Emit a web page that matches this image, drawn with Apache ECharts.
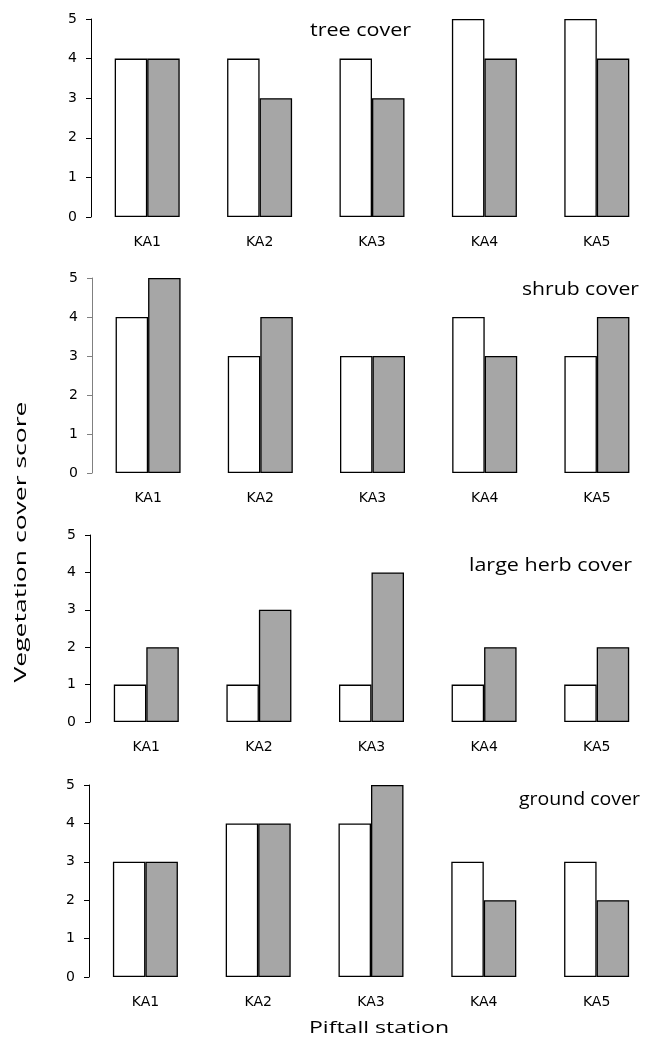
<!DOCTYPE html>
<html>
<head>
<meta charset="utf-8">
<script src="https://cdn.jsdelivr.net/npm/echarts@6/dist/echarts.min.js"></script>
<style>
  html, body { margin: 0; padding: 0; background: #fff; }
  #chart { width: 653px; height: 1041px; }
</style>
</head>
<body>
<div id="chart"></div>
<script>
// stations and cover scores
const stations = ['KA1', 'KA2', 'KA3', 'KA4', 'KA5']
const yTicks = [0, 1, 2, 3, 4, 5]

const treeWhite = [4, 4, 4, 5, 5]
const treeGray = [4, 3, 3, 4, 4]
const shrubWhite = [4, 3, 3, 4, 3]
const shrubGray = [5, 4, 3, 3, 4]
const herbWhite = [1, 1, 1, 1, 1]
const herbGray = [2, 3, 4, 2, 2]
const groundWhite = [3, 4, 4, 3, 3]
const groundGray = [3, 4, 5, 2, 2]

const panelTitles = ['tree cover', 'shrub cover', 'large herb cover', 'ground cover']
const xName = 'Piftall station'
const yName = 'Vegetation cover score'

const LABEL_FONT = 'DejaVu Sans'
const TITLE_FONT = 'Open Sans'

const panels = [
  { white: treeWhite, gray: treeGray, left: 91, top: 19, height: 198, axisColor: '#000' },
  { white: shrubWhite, gray: shrubGray, left: 92, top: 278, height: 195, axisColor: '#808080' },
  { white: herbWhite, gray: herbGray, left: 90, top: 535, height: 187, axisColor: '#000' },
  { white: groundWhite, gray: groundGray, left: 89, top: 785, height: 192, axisColor: '#000' },
]

// text boxes: left edge / centre line and the width the text should span
const titleBoxes = [
  { x: 310, y: 31, w: 101 },
  { x: 522, y: 290, w: 117 },
  { x: 469, y: 566, w: 163 },
  { x: 519, y: 800, w: 121 },
]

// the source fonts are wider than what is installed, so stretch texts to fit
const measureCtx = document.createElement('canvas').getContext('2d')
function stretchFor(text, size, target) {
  measureCtx.font = size + 'px ' + TITLE_FONT
  return target / measureCtx.measureText(text).width
}

const chart = echarts.init(document.getElementById('chart'))

const grid = [], xAxis = [], yAxis = [], series = [], graphic = []
panels.forEach((p, i) => {
  grid.push({ left: p.left, top: p.top, width: 570, height: p.height, containLabel: false })
  xAxis.push({
    type: 'category',
    gridIndex: i,
    data: stations,
    axisLine: { show: false },
    axisTick: { show: false },
    axisLabel: { color: '#000', fontFamily: LABEL_FONT, fontSize: 14, margin: 18 },
  })
  yAxis.push({
    type: 'value',
    gridIndex: i,
    min: yTicks[0],
    max: yTicks[yTicks.length - 1],
    interval: 1,
    splitLine: { show: false },
    axisLine: { show: true, lineStyle: { color: p.axisColor, width: 1 } },
    axisTick: { show: true, length: 5, lineStyle: { color: p.axisColor } },
    axisLabel: { color: '#000', fontFamily: LABEL_FONT, fontSize: 14, margin: 14 },
  })
  series.push({
    type: 'bar',
    xAxisIndex: i,
    yAxisIndex: i,
    data: p.white,
    barWidth: 32.5,
    barGap: '0%',
    itemStyle: { color: '#fff', borderColor: '#000', borderWidth: 1.3 },
    silent: true,
  })
  series.push({
    type: 'bar',
    xAxisIndex: i,
    yAxisIndex: i,
    data: p.gray,
    barWidth: 32.5,
    barGap: '0%',
    itemStyle: { color: '#a6a6a6', borderColor: '#000', borderWidth: 1.3 },
    silent: true,
  })
  const b = titleBoxes[i]
  graphic.push({
    type: 'text',
    x: b.x,
    y: b.y,
    scaleX: stretchFor(panelTitles[i], 18, b.w),
    style: {
      text: panelTitles[i],
      fill: '#000',
      font: '18px ' + TITLE_FONT,
      align: 'left',
      verticalAlign: 'middle',
    },
  })
})

graphic.push({
  type: 'text',
  x: 309,
  y: 1028,
  scaleX: stretchFor(xName, 17, 140),
  style: { text: xName, fill: '#000', font: '17px ' + TITLE_FONT, align: 'left', verticalAlign: 'middle' },
})
graphic.push({
  type: 'text',
  x: 21,
  y: 542,
  rotation: Math.PI / 2,
  scaleX: stretchFor(yName, 17, 281),
  style: { text: yName, fill: '#000', font: '17px ' + TITLE_FONT, align: 'center', verticalAlign: 'middle' },
})

chart.setOption({
  animation: false,
  grid,
  xAxis,
  yAxis,
  series,
  graphic,
})
</script>
</body>
</html>
